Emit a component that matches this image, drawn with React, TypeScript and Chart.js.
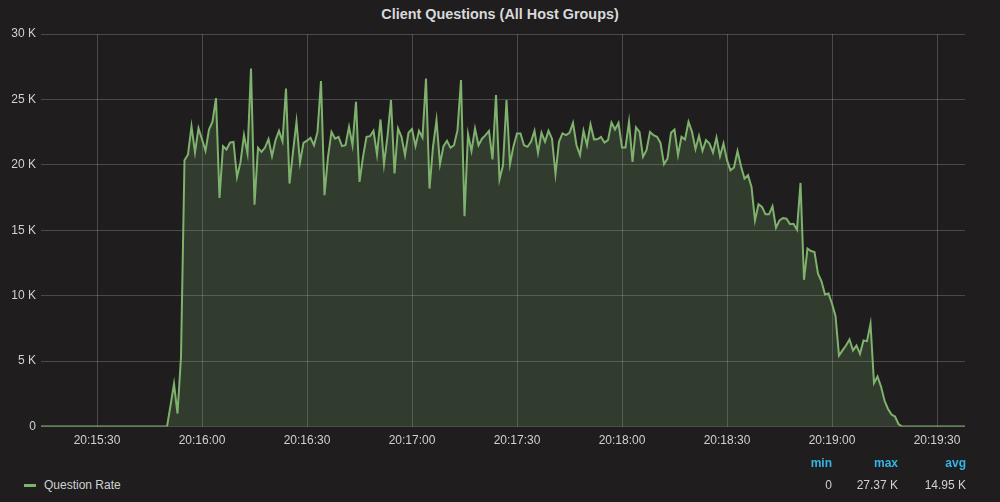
import { useEffect, useRef } from 'react';
import { Chart, registerables } from 'chart.js';

Chart.register(...registerables);

const panelTitle = 'Client Questions (All Host Groups)';
const seriesName = 'Question Rate';

// x values are seconds after 20:15:00
const firstSecond = 14;
const lastSecond = 278;
const tickSeconds = [30, 60, 90, 120, 150, 180, 210, 240, 270];
const tickLabels = [
  '20:15:30',
  '20:16:00',
  '20:16:30',
  '20:17:00',
  '20:17:30',
  '20:18:00',
  '20:18:30',
  '20:19:00',
  '20:19:30',
];

const yTicks = [0, 5000, 10000, 15000, 20000, 25000, 30000];
const yTickLabels = ['0', '5 K', '10 K', '15 K', '20 K', '25 K', '30 K'];

// one value per second, from 20:15:14 to 20:19:38
const questionRate = [
  0, 0, 0, 0, 0, 0, // 14-19
  0, 0, 0, 0, 0, 0, 0, 0, 0, 0, // 20-29
  0, 0, 0, 0, 0, 0, 0, 0, 0, 0, // 30-39
  0, 0, 0, 0, 0, 0, 0, 0, 0, 0, // 40-49
  0, 1600, 3270, 1000, 5300, 20350, 20800, 22950, 20950, 22800, // 50-59
  21960, 21070, 22700, 23300, 25100, 17470, 21420, 21170, 21700, 21750, // 60-69
  19070, 20200, 22270, 20860, 27370, 16960, 21300, 20990, 21320, 21960, // 70-79
  20660, 21880, 22600, 21800, 25830, 18570, 21000, 23300, 20170, 21680, // 80-89
  21850, 22070, 21500, 22520, 26400, 17680, 20610, 22520, 22010, 22140, // 90-99
  21430, 21500, 22900, 21500, 24820, 18700, 20610, 22140, 22190, 22600, // 100-109
  20790, 23470, 20050, 22190, 24950, 19340, 22780, 22140, 20740, 22450, // 110-119
  22730, 21430, 22600, 22090, 26600, 18190, 21380, 23420, 20050, 21430, // 120-129
  21840, 21300, 21500, 22650, 26480, 16070, 22350, 21070, 22780, 21500, // 130-139
  22000, 22270, 22600, 20410, 25330, 18880, 19970, 24950, 20050, 21430, // 140-149
  22400, 22400, 21500, 21380, 21760, 22600, 20920, 22450, 21760, 22600, // 150-159
  22000, 19290, 21760, 22400, 22270, 22450, 23210, 21500, 20740, 22600, // 160-169
  21500, 23090, 21950, 21960, 22140, 21710, 21890, 23240, 22700, 23200, // 170-179
  21330, 21330, 23290, 20230, 22860, 22520, 20610, 21120, 22520, 22270, // 180-189
  22140, 21680, 20050, 20480, 22450, 22700, 20740, 22140, 21940, 23290, // 190-199
  22520, 21200, 22220, 21070, 21890, 21630, 20940, 22090, 20660, 21630, // 200-209
  20360, 19590, 19800, 21050, 19900, 18950, 19210, 18310, 15760, 16990, // 210-219
  16790, 16220, 16220, 16840, 15200, 15760, 15940, 15890, 15460, 15500, // 220-229
  15050, 18620, 11220, 13600, 13420, 13340, 11680, 11100, 10100, 10180, // 230-239
  9390, 8450, 5430, 5820, 6200, 6660, 5820, 6200, 5560, 6580, // 240-249
  6530, 7860, 3320, 3830, 3060, 1990, 1350, 920, 770, 200, // 250-259
  0, 0, 0, 0, 0, 0, 0, 0, 0, 0, // 260-269
  0, 0, 0, 0, 0, 0, 0, 0, 0, // 270-278
];

const statHeaders = ['min', 'max', 'avg'];
const statValues = ['0', '27.37 K', '14.95 K'];
const statRightEdges = [832, 898, 966];

const FONT = '"Liberation Sans", Arial, sans-serif';
const LINE = '#7eb26d';
const GRID = 'rgba(255, 255, 255, 0.2)';
const TEXT = '#d0d1d2';

export default function App() {
  const chartRef = useRef<HTMLCanvasElement>(null);

  useEffect(() => {
    if (!chartRef.current) return;
    const ctx = chartRef.current.getContext('2d');
    if (!ctx) return;

    const points = questionRate.map((v, i) => ({ x: firstSecond + i, y: v }));

    const chart = new Chart(ctx, {
      type: 'line',
      data: {
        datasets: [
          {
            label: seriesName,
            data: points,
            borderColor: LINE,
            backgroundColor: 'rgba(126, 178, 109, 0.2)',
            borderWidth: 2,
            pointRadius: 0,
            tension: 0,
            fill: 'origin',
          },
        ],
      },
      options: {
        responsive: false,
        animation: false,
        layout: {
          padding: { left: 0, right: 35, top: 34, bottom: 4 },
        },
        plugins: {
          legend: { display: false },
          tooltip: { enabled: false },
          title: { display: false },
        },
        scales: {
          x: {
            type: 'linear',
            min: firstSecond,
            max: lastSecond,
            afterBuildTicks: (axis: any) => {
              axis.ticks = tickSeconds.map((v) => ({ value: v }));
            },
            border: { display: false },
            grid: { color: GRID, drawTicks: false },
            ticks: {
              color: TEXT,
              padding: 7,
              maxRotation: 0,
              autoSkip: false,
              font: { family: FONT, size: 12 },
              callback: (_v: any, i: number) => tickLabels[i],
            },
          },
          y: {
            min: 0,
            max: 30000,
            afterBuildTicks: (axis: any) => {
              axis.ticks = yTicks.map((v) => ({ value: v }));
            },
            afterFit: (axis: any) => {
              axis.width = 41;
            },
            border: { display: false },
            grid: { color: GRID, drawTicks: false },
            ticks: {
              color: TEXT,
              padding: 5,
              font: { family: FONT, size: 12 },
              callback: (_v: any, i: number) => yTickLabels[i],
            },
          },
        },
      },
    });

    return () => {
      chart.destroy();
    };
  }, []);

  const textStyle = {
    position: 'absolute' as const,
    fontFamily: FONT,
    fontSize: 12,
    lineHeight: '14px',
    whiteSpace: 'nowrap' as const,
  };

  return (
    <div
      style={{
        position: 'fixed',
        left: 0,
        top: 0,
        width: 1000,
        height: 502,
        background: '#1f1d1e',
        overflow: 'hidden',
      }}
    >
      <div
        style={{
          ...textStyle,
          left: 0,
          width: 1000,
          top: 6,
          fontSize: 14.4,
          lineHeight: '17px',
          fontWeight: 'bold',
          textAlign: 'center',
          color: '#d8d9da',
        }}
      >
        {panelTitle}
      </div>
      <canvas
        ref={chartRef}
        width={1000}
        height={459}
        style={{ position: 'absolute', left: 0, top: 0, width: 1000, height: 459 }}
      ></canvas>
      <div
        style={{ position: 'absolute', left: 24, top: 484, width: 12, height: 3, background: LINE }}
      ></div>
      <div style={{ ...textStyle, left: 44, top: 478, color: TEXT }}>{seriesName}</div>
      {statHeaders.map((h, i) => (
        <div
          key={h}
          style={{
            ...textStyle,
            right: 1000 - statRightEdges[i],
            top: 456,
            color: '#33b5e5',
            fontWeight: 'bold',
            textAlign: 'right',
          }}
        >
          {h}
        </div>
      ))}
      {statValues.map((v, i) => (
        <div
          key={statHeaders[i]}
          style={{ ...textStyle, right: 1000 - statRightEdges[i], top: 478, color: TEXT, textAlign: 'right' }}
        >
          {v}
        </div>
      ))}
    </div>
  );
}
